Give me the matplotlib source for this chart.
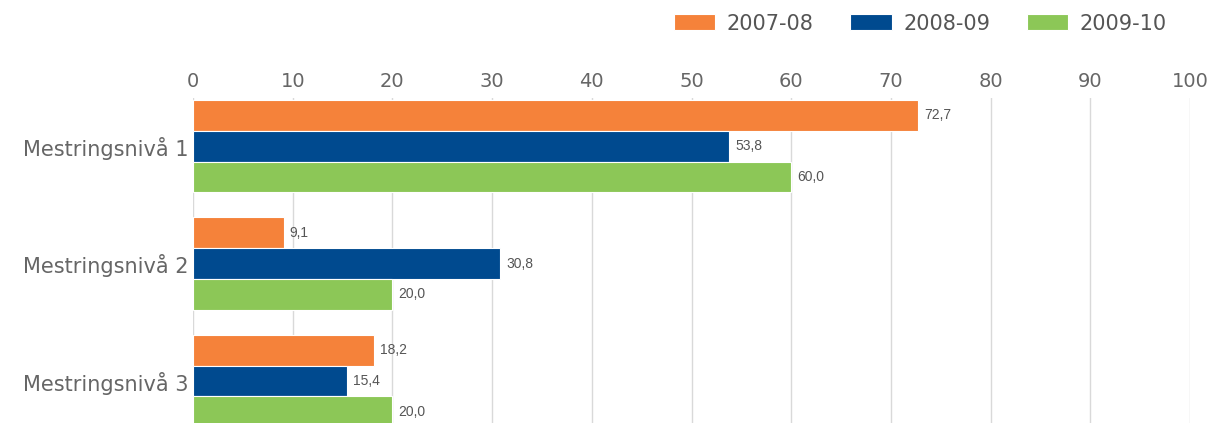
import matplotlib
matplotlib.use("Agg")
import matplotlib.pyplot as plt
import numpy as np

plt.rcParams['font.family'] = ['DejaVu Sans']

categories = ["Mestringsnivå 1", "Mestringsnivå 2", "Mestringsnivå 3"]
series_names = ["2007-08", "2008-09", "2009-10"]
v_2007 = [72.7, 9.1, 18.2]
v_2008 = [53.8, 30.8, 15.4]
v_2009 = [60.0, 20.0, 20.0]
xticks = [0, 10, 20, 30, 40, 50, 60, 70, 80, 90, 100]

colors = ["#F5823A", "#004A8F", "#8CC757"]
series = [v_2007, v_2008, v_2009]

W, H = 1211, 423
fig = plt.figure(figsize=(W / 100, H / 100), dpi=100)
left, right = 193 / W, 1190 / W
top_px = 98
ax = fig.add_axes([left, 0, right - left, 1 - top_px / H])

bar_h = 0.262
offsets = [-bar_h, 0, bar_h]
y = np.arange(len(categories))
for vals, off, col, name in zip(series, offsets, colors, series_names):
    ax.barh(y + off, vals, height=bar_h, color=col, edgecolor="white",
            linewidth=0.8, label=name, zorder=3)
    for yy, v in zip(y + off, vals):
        ax.text(v + 0.6, yy, f"{v:.1f}".replace(".", ","), va="center", ha="left",
                fontsize=10, color="#555555", zorder=4,
                family=["Liberation Sans", "DejaVu Sans"])

ax.set_xlim(0, 100)
ax.set_ylim(2.357, -0.41)
ax.set_xticks(xticks)
ax.xaxis.tick_top()
ax.tick_params(axis="x", length=0, pad=5, labelsize=14, labelcolor="#666666")
ax.set_yticks(y)
ax.set_yticklabels(categories)
ax.tick_params(axis="y", length=0, pad=3.5, labelsize=15, labelcolor="#666666")
ax.grid(axis="x", color="#d9d9d9", linewidth=1, zorder=0)
for s in ax.spines.values():
    s.set_visible(False)

leg = fig.legend(loc="center right", bbox_to_anchor=(1167 / W, 1 - 23.5 / H), ncol=3,
                 frameon=False, fontsize=15, handlelength=2.0, handleheight=0.8,
                 columnspacing=1.75, handletextpad=0.55, borderpad=0, borderaxespad=0,
                 labelcolor="#555555")

fig.savefig("out.png", dpi=100)
